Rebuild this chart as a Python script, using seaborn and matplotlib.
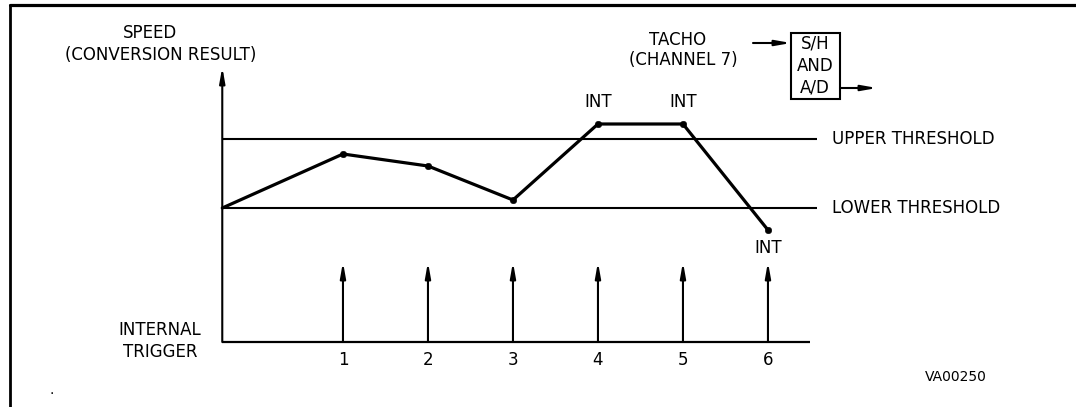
import pandas as pd
import seaborn as sns
from matplotlib import pyplot as plt
from matplotlib.patches import Rectangle

# speed samples (conversion result) at each internal trigger, first value is the start at the axis
trigger_pos = [-0.42, 1, 2, 3, 4, 5, 6]
speed = [134, 188, 176, 142, 218, 218, 112]
triggers = [1, 2, 3, 4, 5, 6]
trigger_labels = ['1', '2', '3', '4', '5', '6']
upper_threshold = 203
lower_threshold = 134
int_points = [4, 5, 6]
int_offsets = [22, 22, -18]

W, H = 1076, 407


def fx(px):
    return px / W


def fy(py):
    return 1 - py / H


sns.set_style('white')
plt.rcParams['font.family'] = ['DejaVu Sans']
plt.rcParams['text.color'] = 'black'

fig = plt.figure(figsize=(10.76, 4.07), dpi=100)
ax = fig.add_axes([0, 0, 1, 1])
ax.set_xlim(-3.035, 9.624)
ax.set_ylim(-65, 342)
ax.axis('off')

df = pd.DataFrame({'trigger': trigger_pos, 'speed': speed})
sns.lineplot(data=df, x='trigger', y='speed', color='black', linewidth=2.3, ax=ax)
sns.scatterplot(data=df.iloc[1:], x='trigger', y='speed', color='black', s=22,
                edgecolor='black', zorder=5, ax=ax)

x0 = trigger_pos[0]
ax.hlines([upper_threshold, lower_threshold], x0, 6.58, color='black', linewidth=1.5)
ax.hlines(0, x0, 6.49, color='black', linewidth=1.6)

arrow = dict(arrowstyle='-|>,head_length=0.9,head_width=0.16', color='black', lw=1.5,
             shrinkA=0, shrinkB=0, mutation_scale=10)
ax.annotate('', xy=(x0, 275), xytext=(x0, 0), arrowprops=arrow)
for t, lab in zip(triggers, trigger_labels):
    ax.annotate('', xy=(t, 80), xytext=(t, 0), arrowprops=arrow)
    ax.text(t, -18, lab, ha='center', va='center', fontsize=12)

for t, off in zip(int_points, int_offsets):
    ax.text(t, speed[trigger_pos.index(t)] + off, 'INT', ha='center', va='center', fontsize=12)

ax.text(6.75, upper_threshold, 'UPPER THRESHOLD', ha='left', va='center', fontsize=12)
ax.text(6.75, lower_threshold, 'LOWER THRESHOLD', ha='left', va='center', fontsize=12)

# labels around the diagram
fig.text(fx(150), fy(33), 'SPEED', ha='center', va='center', fontsize=12)
fig.text(fx(161), fy(55), '(CONVERSION RESULT)', ha='center', va='center', fontsize=12)
fig.text(fx(160), fy(330), 'INTERNAL', ha='center', va='center', fontsize=12)
fig.text(fx(160), fy(352), 'TRIGGER', ha='center', va='center', fontsize=12)
fig.text(fx(678), fy(40), 'TACHO', ha='center', va='center', fontsize=12)
fig.text(fx(683), fy(60), '(CHANNEL 7)', ha='center', va='center', fontsize=12)
fig.text(fx(956), fy(377), 'VA00250', ha='center', va='center', fontsize=10)
fig.text(fx(52), fy(390), '.', ha='center', va='center', fontsize=10)

# S/H and A/D block
fig.add_artist(Rectangle((fx(791), fy(99)), fx(840) - fx(791), fy(33) - fy(99),
                         transform=fig.transFigure, fill=False, edgecolor='black', lw=1.5))
for py, lab in zip([44, 66, 88], ['S/H', 'AND', 'A/D']):
    fig.text(fx(815), fy(py), lab, ha='center', va='center', fontsize=12)
ax.annotate('', xy=(fx(791), fy(43)), xytext=(fx(753), fy(43)),
            xycoords='figure fraction', textcoords='figure fraction', arrowprops=arrow)
ax.annotate('', xy=(fx(877), fy(88)), xytext=(fx(840), fy(88)),
            xycoords='figure fraction', textcoords='figure fraction', arrowprops=arrow)

# frame (top and left edges)
fig.add_artist(plt.Line2D([fx(10), 1], [fy(4.5), fy(4.5)], color='black', lw=2.3,
                          transform=fig.transFigure))
fig.add_artist(plt.Line2D([fx(10), fx(10)], [fy(4.5), 0], color='black', lw=2.0,
                          transform=fig.transFigure))

fig.savefig('out.png', dpi=100)
